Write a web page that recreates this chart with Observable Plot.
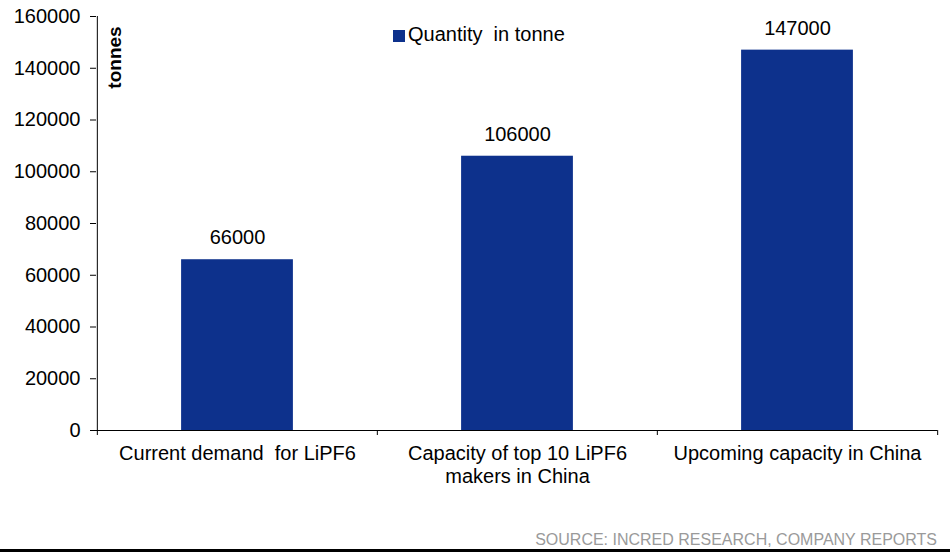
<!DOCTYPE html>
<html><head><meta charset="utf-8">
<script src="https://cdn.jsdelivr.net/npm/d3@7"></script>
<script src="https://cdn.jsdelivr.net/npm/@observablehq/plot@0.6"></script>
<style>
body{margin:0;background:#fff;font-family:"Liberation Sans",Arial,sans-serif;}
#wrap{position:relative;width:950px;}
#legend{position:absolute;left:393px;top:23px;font-size:20px;line-height:23px;display:flex;align-items:flex-start;white-space:pre;color:#000;}
#legend .sw{width:12px;height:12px;background:#0d318c;margin-top:7px;margin-right:3px;}
#src{width:937px;padding-right:13px;height:19px;line-height:19px;text-align:right;color:#9a9a9a;font-size:16px;border-bottom:3px solid #000;}
</style></head>
<body>
<div id="wrap">
  <div id="chart"></div>
  <div id="legend"><div class="sw"></div><span>Quantity  in tonne</span></div>
  <div id="src">SOURCE: INCRED RESEARCH, COMPANY REPORTS</div>
</div>
<script>
const categories = ["Current demand  for LiPF6", "Capacity of top 10 LiPF6\nmakers in China", "Upcoming capacity in China"];
const values = [66000, 106000, 147000];
const yTicks = [0, 20000, 40000, 60000, 80000, 100000, 120000, 140000, 160000];
const seriesName = "Quantity  in tonne";
const yLabel = "tonnes";

const data = categories.map((c, i) => ({cat: c, value: values[i]}));
const W = 950, H = 530, mL = 96, mR = 13, mT = 16, mB = 100;
const bw = (W - mL - mR) / categories.length;
const barColor = "#0d318c";

const chart = Plot.plot({
  width: W, height: H,
  marginLeft: mL, marginRight: mR, marginTop: mT, marginBottom: mB,
  style: {fontFamily: "'Liberation Sans', Arial, sans-serif", fontSize: "20px", color: "#000", background: "#fff"},
  x: {domain: categories, padding: 0},
  y: {domain: [0, 160000]},
  marks: [
    Plot.barY(data, {x: "cat", y: "value", fill: barColor, insetLeft: bw * 0.3, insetRight: bw * 0.3}),
    Plot.text(data, {x: "cat", y: "value", text: d => String(d.value), dy: -22, fontSize: 20, fill: "#000"}),
    Plot.axisY({ticks: yTicks, tickSize: 6, tickPadding: 10, tickFormat: d => String(d), label: null, fontSize: 20, stroke: "#000"}),
    Plot.axisX({tickSize: 0, tickPadding: 13, lineHeight: 1.15, label: null, fontSize: 20, tickFormat: d => d}),
    Plot.ruleY([0], {stroke: "#000"}),
    Plot.ruleX([categories[0]], {dx: -bw / 2, stroke: "#000"}),
    Plot.ruleX(categories, {dx: -bw / 2, stroke: "#000", insetTop: H - mT - mB, insetBottom: -5}),
    Plot.ruleX([categories[categories.length - 1]], {dx: bw / 2, stroke: "#000", insetTop: H - mT - mB, insetBottom: -5}),
    Plot.text([yLabel], {frameAnchor: "top-left", textAnchor: "middle", lineAnchor: "middle", rotate: -90, dx: 18, dy: 41, fontWeight: "bold", fontSize: 19, fill: "#000"})
  ]
});
document.getElementById("chart").appendChild(chart);
</script>
</body></html>
